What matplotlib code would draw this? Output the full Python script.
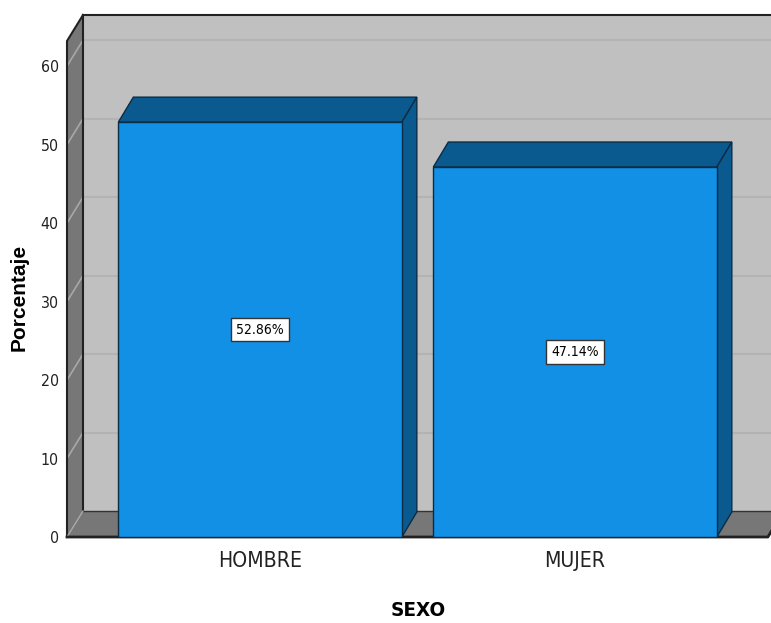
import matplotlib
matplotlib.use("Agg")
import matplotlib.pyplot as plt
from matplotlib.patches import Polygon, Rectangle
from matplotlib import font_manager

# datos
categorias = ["HOMBRE", "MUJER"]
porcentajes = [52.86, 47.14]
ticks_y = [0, 10, 20, 30, 40, 50, 60]

# colores estilo SPSS
c_fondo = "#c0c0c0"
c_pared = "#777777"
c_frente = "#1290e6"
c_lado = "#0b5a8f"
c_borde = "#0a2c44"

# fuente estrecha si existe
ruta = font_manager.findfont(font_manager.FontProperties(family="DejaVu Sans", stretch="condensed"))
if "Condensed" in ruta:
    txt = dict(family="DejaVu Sans", stretch="condensed")
    esc = 0.95
else:
    txt = dict(family="Liberation Sans")
    esc = 0.86

fig = plt.figure(figsize=(7.71, 6.23), dpi=100)
ax = fig.add_axes([67 / 771, 86 / 623, 704 / 771, 496 / 623])
x0, x1 = -0.613, 1.622
ymax = 63.2
ax.set_xlim(x0, x1)
ax.set_ylim(0, ymax)
for s in ax.spines.values():
    s.set_visible(False)

# profundidad 3D en unidades de datos
dx, dy = 16 / 315, 26 / 7.85
bdx, bdy = 15 / 315, 25 / 7.85
xfin = 1.612

# pared del fondo
ax.add_patch(Polygon([(x0 + dx, dy), (x1 + 0.1, dy), (x1 + 0.1, ymax + dy), (x0 + dx, ymax + dy)],
                     closed=True, facecolor=c_fondo, edgecolor="none", zorder=0, clip_on=False))
ax.plot([x0 + dx, x1 + 0.1], [ymax + dy, ymax + dy], color="#222222", lw=1.5, zorder=1, clip_on=False)

# lineas de cuadricula
for t in ticks_y[1:]:
    ax.plot([x0 + dx, x1 + 0.1], [t + dy, t + dy], color="#b3b3b3", lw=1.5, zorder=1, clip_on=False)

# pared izquierda
ax.add_patch(Polygon([(x0, 0), (x0 + dx, dy), (x0 + dx, ymax + dy), (x0, ymax)],
                     closed=True, facecolor=c_pared, edgecolor="none", zorder=2, clip_on=False))
for t in ticks_y[1:]:
    ax.plot([x0, x0 + dx], [t, t + dy], color="#a8a8a8", lw=1.2, zorder=2, clip_on=False)

# piso
ax.add_patch(Polygon([(x0, 0), (xfin, 0), (xfin + dx, dy), (x0 + dx, dy)],
                     closed=True, facecolor=c_pared, edgecolor="none", zorder=2, clip_on=False))
ax.plot([x0 + dx, x1 + 0.1], [dy, dy], color="#333333", lw=1, zorder=2, clip_on=False)
ax.plot([x0 + dx, x0 + dx], [dy, ymax + dy], color="#222222", lw=1.5, zorder=2, clip_on=False)
ax.plot([x0, x0, x0 + dx], [0, ymax, ymax + dy], color="#222222", lw=1.5, zorder=2, clip_on=False)
ax.plot([x0, x0 + dx], [0, dy], color="#a8a8a8", lw=1, zorder=2, clip_on=False)
ax.plot([x0, xfin, xfin + dx], [0, 0, dy], color="#222222", lw=2, zorder=2, clip_on=False)

# barras 3D
ancho = 0.9
for i, v in enumerate(porcentajes):
    xa, xb = i - ancho / 2, i + ancho / 2
    ax.add_patch(Polygon([(xa, v), (xb, v), (xb + bdx, v + bdy), (xa + bdx, v + bdy)],
                         closed=True, facecolor=c_lado, edgecolor=c_borde, lw=1, zorder=3, clip_on=False))
    ax.add_patch(Polygon([(xb, 0), (xb + bdx, bdy), (xb + bdx, v + bdy), (xb, v)],
                         closed=True, facecolor=c_lado, edgecolor=c_borde, lw=1, zorder=3, clip_on=False))
    ax.add_patch(Rectangle((xa, 0), ancho, v, facecolor=c_frente, edgecolor=c_borde, lw=1, zorder=4))
    ax.text(i, v / 2, f"{v:.2f}%", ha="center", va="center", fontsize=10.5 * esc, zorder=5, **txt,
            bbox=dict(boxstyle="square,pad=0.35", facecolor="white", edgecolor="#333333", lw=1))

ax.set_xticks(range(len(categorias)))
ax.set_xticklabels(categorias, fontsize=16 * esc, color="#222222", **txt)
ax.set_yticks(ticks_y)
ax.set_yticklabels([str(t) for t in ticks_y], fontsize=12 * esc, color="#222222", **txt)
ax.tick_params(axis="both", length=0)
ax.tick_params(axis="x", pad=10)
ax.tick_params(axis="y", pad=6)

fig.text(418 / 771, 1 - 610 / 623, "SEXO", ha="center", va="center", fontsize=15.5 * esc,
         fontweight="bold", **txt)
fig.text(19 / 771, 1 - 297 / 623, "Porcentaje", ha="center", va="center", rotation=90,
         fontsize=15, fontweight="bold", family=["Liberation Sans", "DejaVu Sans"])

fig.savefig("out.png", dpi=100)
